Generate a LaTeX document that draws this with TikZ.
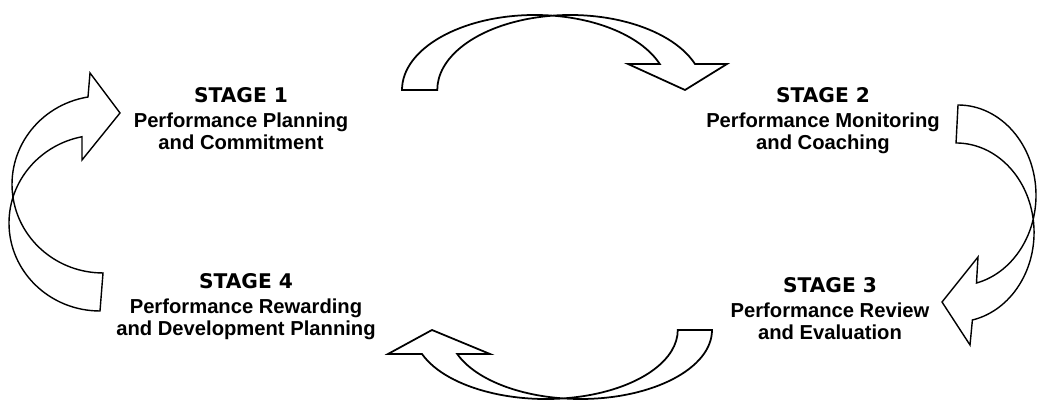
\documentclass[tikz,border=0pt]{standalone}
\usepackage{fontspec}
\setmainfont{Liberation Sans}
\newfontfamily\stagefont{DejaVu Sans}
\tikzset{
  blockarrow/.style={draw=black, line width=1pt, fill=white, line join=miter},
  sidearrow/.style={blockarrow, line width=0.8pt},
  stagetext/.style={align=center, inner sep=0pt, anchor=north,
    font=\fontsize{11.5}{12.8}\selectfont\bfseries},
}
\newcommand{\stagehead}[1]{{\stagefont\bfseries STAGE #1}}

\begin{document}
\begin{tikzpicture}[x=0.02cm,y=0.02cm]
  \useasboundingbox (0,0) rectangle (1038,401);
  % top arrow, stage 1 to stage 2
  \draw[blockarrow] (402,311) arc[start angle=180,end angle=20.3,x radius=133,y radius=75]
    -- (628,337) -- (685,311) -- (727,337) -- (695,337)
    arc[start angle=20.3,end angle=180,x radius=133,y radius=75] -- cycle;
  % right arrow, stage 2 to stage 3
  \draw[sidearrow] (958,296) arc[start angle=90,end angle=-76.3,x radius=78,y radius=90.3]
    -- (978,144) -- (942,99) -- (970,56) -- (972.4,81)
    arc[start angle=-77.9,end angle=90,x radius=78,y radius=89.5] -- cycle;
  % bottom arrow, stage 3 to stage 4
  \draw[blockarrow] (422,47) arc[start angle=200.35,end angle=360,x radius=132,y radius=69]
    -- (712,71)
    arc[start angle=0,end angle=-159.65,x radius=131.5,y radius=69]
    -- (490,47) -- (432,71) -- (388,47) -- cycle;
  % left arrow, stage 4 to stage 1
  \draw[sidearrow] (100,90) arc[start angle=270,end angle=101.4,x radius=91,y radius=88]
    -- (82,241) -- (120,288) -- (90,328) -- (88,304)
    arc[start angle=99.5,end angle=270,x radius=91,y radius=88.6] -- cycle;

  \coordinate (s1) at (241,314); \coordinate (s2) at (823,314);
  \coordinate (s3) at (830,124); \coordinate (s4) at (246,128);
  \node[stagetext] (stage1) at (s1) {\stagehead{1}\\[1.5pt]Performance Planning\\and Commitment};
  \node[stagetext] (stage2) at (s2) {\stagehead{2}\\[1.5pt]Performance Monitoring\\and Coaching};
  \node[stagetext] (stage3) at (s3) {\stagehead{3}\\[1.5pt]Performance Review\\and Evaluation};
  \node[stagetext] (stage4) at (s4) {\stagehead{4}\\[1.5pt]Performance Rewarding\\and Development Planning};
\end{tikzpicture}
\end{document}
